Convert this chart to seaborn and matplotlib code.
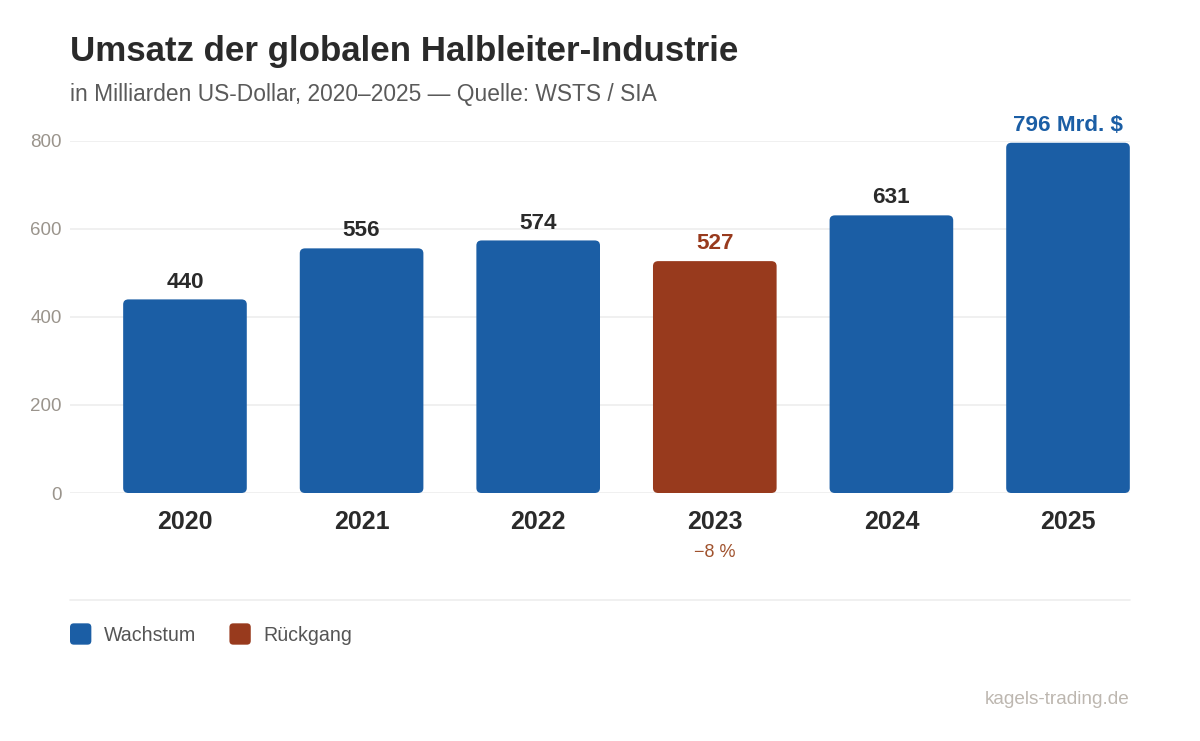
import matplotlib
matplotlib.use("Agg")
import matplotlib.pyplot as plt
import seaborn as sns
import pandas as pd
from matplotlib.patches import FancyBboxPatch, Patch
from matplotlib.legend_handler import HandlerPatch

years = ["2020", "2021", "2022", "2023", "2024", "2025"]
revenue = [440, 556, 574, 527, 631, 796]
trend = ["Wachstum", "Wachstum", "Wachstum", "Rückgang", "Wachstum", "Wachstum"]
value_labels = ["440", "556", "574", "527", "631", "796 Mrd. $"]
yticks = [0, 200, 400, 600, 800]
change_note = {"2023": "−8 %"}

BLUE = "#1b5ea5"
BROWN = "#983a1d"
DARK = "#2a2a2a"

sns.set_theme(style="white")
plt.rcParams["font.family"] = ["Liberation Sans", "DejaVu Sans"]

df = pd.DataFrame({"Jahr": years, "Umsatz": revenue, "Trend": trend})

W, H = 1200, 741
fig = plt.figure(figsize=(W / 100, H / 100), dpi=100)
ax = fig.add_axes([70 / W, 1 - 493 / H, 1060 / W, 352 / H])

sns.barplot(data=df, x="Jahr", y="Umsatz", hue="Trend",
            palette={"Wachstum": BLUE, "Rückgang": BROWN},
            dodge=False, width=0.7, saturation=1, legend=False, ax=ax, zorder=3)

ax.set_xlim(-0.651, 5.351)
ax.set_ylim(0, 800)

# rounded bars
for p in list(ax.patches):
    if p.get_height() <= 0:
        continue
    x, y = p.get_x(), p.get_y()
    w, h = p.get_width(), p.get_height()
    fb = FancyBboxPatch((x, y), w, h,
                        boxstyle="round,pad=0,rounding_size=0.03",
                        mutation_aspect=380,
                        facecolor=p.get_facecolor(), edgecolor="none", zorder=3)
    p.remove()
    ax.add_patch(fb)

# grid
ax.set_yticks(yticks)
ax.grid(axis="y", color="#eeeeee", linewidth=1.2, zorder=0)
ax.grid(axis="x", visible=False)
for s in ax.spines.values():
    s.set_visible(False)
ax.set_xlabel("")
ax.set_ylabel("")
ax.tick_params(axis="y", length=0, pad=6, labelsize=13.5, labelcolor="#9a948c")
ax.tick_params(axis="x", length=0, pad=12.5, labelsize=18, labelcolor=DARK)
for lbl in ax.get_xticklabels():
    lbl.set_fontweight("bold")

# value labels
for i, (v, t, lab) in enumerate(zip(revenue, trend, value_labels)):
    if i == len(revenue) - 1:
        col = BLUE
    elif t == "Rückgang":
        col = BROWN
    else:
        col = DARK
    ax.annotate(lab, (i, v), xytext=(0, 12.5), textcoords="offset points",
                ha="center", va="center", fontsize=16.2, fontweight="bold",
                color=col, annotation_clip=False)

# change note
for i, yr in enumerate(years):
    if yr in change_note:
        ax.annotate(change_note[yr], (i, 0), xytext=(0, -43), textcoords="offset points",
                    ha="center", va="center", fontsize=13, color="#a0522d",
                    annotation_clip=False)

# titles
fig.text(70 / W, 1 - 52 / H, "Umsatz der globalen Halbleiter-Industrie",
         fontsize=25.1, fontweight="bold", color=DARK, ha="left", va="center")
fig.text(70 / W, 1 - 95 / H, "in Milliarden US-Dollar, 2020–2025 — Quelle: WSTS / SIA",
         fontsize=16.4, color="#5a5a5a", ha="left", va="center")

# separator line
fig.add_artist(plt.Line2D([70 / W, 1130 / W], [1 - 600 / H, 1 - 600 / H],
                          transform=fig.transFigure, color="#eeeeee", linewidth=1.2))


class RoundHandler(HandlerPatch):
    def create_artists(self, legend, orig_handle, xdescent, ydescent,
                       width, height, fontsize, trans):
        s = min(width, height)
        p = FancyBboxPatch((-xdescent, -ydescent + (height - s) / 2), s, s,
                           boxstyle="round,pad=0,rounding_size=%f" % (s * 0.18),
                           facecolor=orig_handle.get_facecolor(), edgecolor="none",
                           transform=trans)
        return [p]


# legend
handles = [Patch(facecolor=BLUE, edgecolor="none", label="Wachstum"),
           Patch(facecolor=BROWN, edgecolor="none", label="Rückgang")]
fig.legend(handles=handles, loc="center left",
           bbox_to_anchor=(70 / W, 1 - 634 / H), ncol=2, frameon=False,
           borderpad=0, borderaxespad=0,
           handlelength=1.3, handleheight=1.3, handletextpad=0.43,
           columnspacing=1.7, fontsize=14.1, labelcolor="#555555",
           handler_map={Patch: RoundHandler()})

fig.text(1130 / W, 1 - 699 / H, "kagels-trading.de", fontsize=13.7,
         color="#bdb7b0", ha="right", va="center")

fig.savefig("out.png", dpi=100, facecolor="white")
